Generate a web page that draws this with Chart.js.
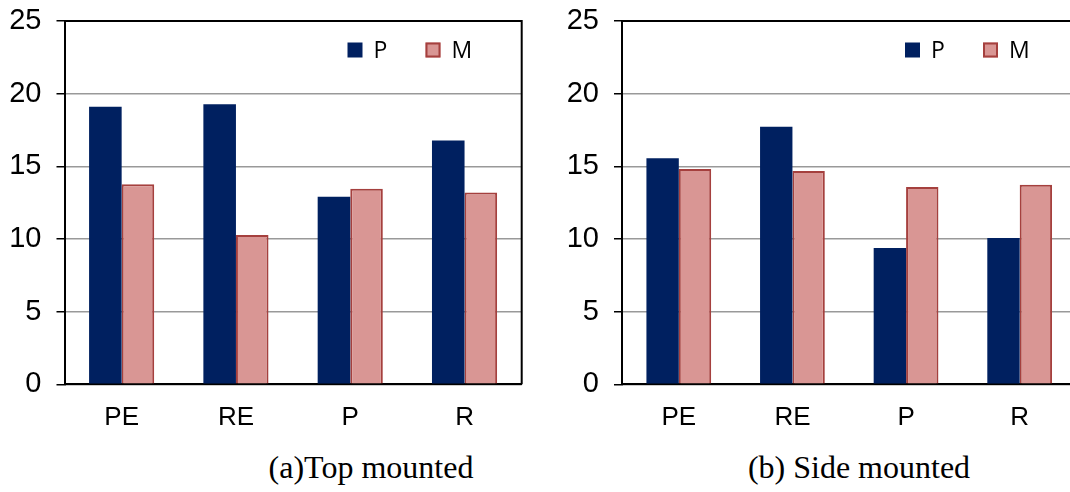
<!DOCTYPE html>
<html>
<head>
<meta charset="utf-8">
<script src="https://cdn.jsdelivr.net/npm/chart.js@4.4.1/dist/chart.umd.min.js"></script>
<style>
    html, body { margin: 0; padding: 0; background: #fff; overflow: hidden; }
    body { width: 1070px; height: 492px; position: relative; }
    canvas { position: absolute; top: 0; }
    #chartTop { left: 0; }
    #chartSide { left: 540px; }
    .caption {
        position: absolute;
        top: 451px;
        height: 32px;
        line-height: 32px;
        font-family: "Liberation Serif", "Times New Roman", serif;
        font-size: 32px;
        color: #000;
        text-align: center;
        white-space: nowrap;
    }
</style>
</head>
<body>
<canvas id="chartTop" width="540" height="445"></canvas>
<canvas id="chartSide" width="545" height="445"></canvas>
<div class="caption" id="capTop" style="left:221px; width:300px;"></div>
<div class="caption" id="capSide" style="left:709px; width:300px;"></div>

<script>
// data
const categories = ['PE', 'RE', 'P', 'R'];
const seriesNames = ['P', 'M'];
const topP = [19.1, 19.27, 12.91, 16.77];
const topM = [13.76, 10.28, 13.46, 13.19];
const sideP = [15.55, 17.73, 9.38, 10.07];
const sideM = [14.82, 14.68, 13.58, 13.74];
const yMin = 0;
const yMax = 25;
const yStep = 5;
const captions = ['(a)Top mounted', '(b) Side mounted'];

document.getElementById('capTop').textContent = captions[0];
document.getElementById('capSide').textContent = captions[1];

const navy = '#002060';
const pink = '#d99694';
const pinkEdge = '#a5403e';

// Draws the top / right frame and the legend inside the plot area
const framePlugin = {
    id: 'frame',
    afterDraw(chart) {
        const { ctx, chartArea } = chart;
        ctx.save();
        ctx.strokeStyle = '#000';
        ctx.lineWidth = 2;
        ctx.beginPath();
        ctx.moveTo(chartArea.left, chartArea.top);
        ctx.lineTo(chartArea.right, chartArea.top);
        ctx.lineTo(chartArea.right, chartArea.bottom);
        ctx.stroke();

        // legend
        const offsets = [283, 361];
        const legendY = 50;
        ctx.font = '23px "Open Sans", sans-serif';
        ctx.textBaseline = 'middle';
        ctx.textAlign = 'left';
        chart.data.datasets.forEach((ds, i) => {
            const x = chartArea.left + offsets[i];
            ctx.fillStyle = ds.backgroundColor;
            ctx.fillRect(x, legendY - 7.5, 15, 15);
            if (ds.borderWidth) {
                ctx.strokeStyle = ds.borderColor;
                ctx.lineWidth = 2;
                ctx.strokeRect(x + 1, legendY - 6.5, 13, 13);
            }
            ctx.fillStyle = '#000';
            ctx.fillText(ds.label, x + 26, legendY + 1);
        });
        ctx.restore();
    }
};

function makeChart(canvasId, pVals, mVals, axisWidth, padRight) {
    const ctx = document.getElementById(canvasId).getContext('2d');
    return new Chart(ctx, {
        type: 'bar',
        data: {
            labels: categories,
            datasets: [{
                label: seriesNames[0],
                data: pVals,
                backgroundColor: navy,
                borderWidth: 0
            }, {
                label: seriesNames[1],
                data: mVals,
                backgroundColor: pink,
                borderColor: pinkEdge,
                borderWidth: 2
            }]
        },
        options: {
            responsive: false,
            animation: false,
            barPercentage: 1,
            categoryPercentage: 0.57,
            layout: {
                padding: { top: 21, right: padRight, bottom: 0, left: 0 }
            },
            plugins: {
                legend: { display: false },
                tooltip: { enabled: false }
            },
            scales: {
                x: {
                    grid: { display: false, drawTicks: false },
                    border: { display: true, color: '#000', width: 2 },
                    ticks: {
                        color: '#000',
                        padding: 18,
                        font: { family: '"Liberation Sans", Arial, sans-serif', size: 26 }
                    },
                    afterFit(scale) {
                        scale.height = 445 - 384.3;
                    }
                },
                y: {
                    min: yMin,
                    max: yMax,
                    ticks: {
                        stepSize: yStep,
                        color: '#000',
                        padding: 15,
                        font: { family: '"Liberation Sans", Arial, sans-serif', size: 29 }
                    },
                    grid: {
                        color: '#999',
                        lineWidth: 1.5,
                        tickColor: '#000',
                        tickLength: 8
                    },
                    border: { display: true, color: '#000', width: 2 },
                    afterFit(scale) {
                        scale.width = axisWidth;
                        // let the layout padding alone decide the top of the plot
                        scale.paddingTop = 0;
                        scale.paddingBottom = 0;
                    }
                }
            }
        },
        plugins: [framePlugin]
    });
}

makeChart('chartTop', topP, topM, 64.5, 540 - 521.7);
makeChart('chartSide', sideP, sideM, 82, 545 - 536.5);
</script>
</body>
</html>
